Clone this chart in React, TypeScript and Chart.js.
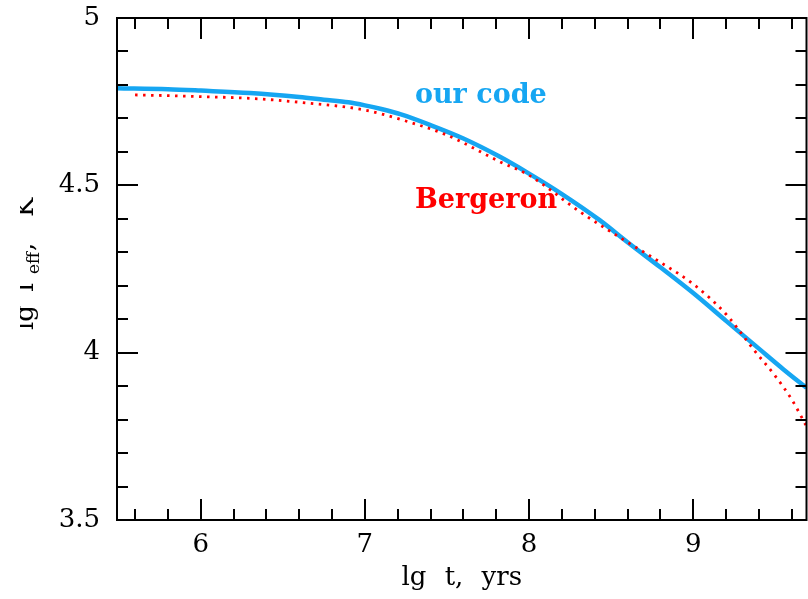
import React, { useEffect, useRef } from "react";
import { Chart, registerables } from "chart.js";

Chart.register(...registerables);

// ---- data ----
const X_MIN = 5.49;
const X_MAX = 9.69;
const Y_MIN = 3.5;
const Y_MAX = 5;
const xTicks = [6, 7, 8, 9];
const yTicks = [3.5, 4, 4.5, 5];

const ourCodeX = [5.49, 5.8, 6.0, 6.3, 6.6, 6.75, 6.9, 7.0, 7.1, 7.22, 7.4, 7.6, 7.82, 8.0, 8.2, 8.43, 8.6, 8.8, 9.0, 9.2, 9.4, 9.55, 9.69];
const ourCodeY = [4.79, 4.787, 4.783, 4.776, 4.764, 4.756, 4.748, 4.739, 4.728, 4.712, 4.68, 4.64, 4.586, 4.535, 4.474, 4.396, 4.33, 4.255, 4.178, 4.095, 4.012, 3.95, 3.895];

const bergeronX = [5.6, 5.8, 6.0, 6.3, 6.67, 7.0, 7.23, 7.5, 7.82, 8.0, 8.31, 8.6, 8.8, 9.0, 9.2, 9.37, 9.5, 9.6, 9.69];
const bergeronY = [4.77, 4.768, 4.765, 4.76, 4.745, 4.725, 4.695, 4.65, 4.571, 4.53, 4.421, 4.33, 4.27, 4.205, 4.115, 4.008, 3.93, 3.86, 3.78];

const seriesNames = ["our code", "Bergeron"];
const seriesColors = ["#16a6f2", "#ff0000"];
const nameX = [7.305, 7.305];
const nameY = [4.746, 4.432];

const xTitle = "lg t, yrs";
const yTitleParts = ["lg", "T", "eff", ",", "K"];

const SERIF = '"DejaVu Serif", serif';

const framePlugin = {
  id: "frame",
  afterDraw(chart: any) {
    const { ctx, chartArea, scales } = chart;
    const { left, right, top, bottom } = chartArea;
    const xs = scales.x;
    const ys = scales.y;
    ctx.save();
    ctx.strokeStyle = "#000";
    ctx.lineWidth = 2;
    ctx.strokeRect(left, top, right - left, bottom - top);
    ctx.beginPath();
    const MAJ = 21;
    const MIN = 11;
    for (let k = 28; k <= 48; k++) {
      const v = k * 0.2;
      if (v < X_MIN || v > X_MAX) continue;
      const px = Math.round(xs.getPixelForValue(v));
      const len = k % 5 === 0 ? MAJ : MIN;
      ctx.moveTo(px, bottom);
      ctx.lineTo(px, bottom - len);
      ctx.moveTo(px, top);
      ctx.lineTo(px, top + len);
    }
    for (let k = 35; k <= 50; k++) {
      const v = k / 10;
      const py = Math.round(ys.getPixelForValue(v));
      const len = k % 5 === 0 ? MAJ : MIN;
      ctx.moveTo(left, py);
      ctx.lineTo(left + len, py);
      ctx.moveTo(right, py);
      ctx.lineTo(right - len, py);
    }
    ctx.stroke();

    // series names
    ctx.font = `bold 27px ${SERIF}`;
    ctx.textAlign = "left";
    ctx.textBaseline = "alphabetic";
    for (let i = 0; i < seriesNames.length; i++) {
      ctx.fillStyle = seriesColors[i];
      ctx.fillText(seriesNames[i], xs.getPixelForValue(nameX[i]), ys.getPixelForValue(nameY[i]));
    }

    // x title
    ctx.fillStyle = "#000";
    ctx.font = `26px ${SERIF}`;
    ctx.textAlign = "center";
    (ctx as any).wordSpacing = "10px";
    ctx.fillText(xTitle, (left + right) / 2, 585);
    (ctx as any).wordSpacing = "0px";

    // y title (rotated, clipped at the left like the original)
    ctx.beginPath();
    ctx.rect(20, 0, 100, 599);
    ctx.clip();
    const drawRot = (t: string, yb: number, xb: number, font: string) => {
      ctx.save();
      ctx.translate(xb, yb);
      ctx.rotate(-Math.PI / 2);
      ctx.font = font;
      ctx.textAlign = "left";
      ctx.fillText(t, 0, 0);
      ctx.restore();
    };
    drawRot(yTitleParts[0], 330, 33, `26px ${SERIF}`);
    drawRot(yTitleParts[1], 296, 33, `26px ${SERIF}`);
    drawRot(yTitleParts[2], 274, 39, `17px ${SERIF}`);
    drawRot(yTitleParts[3], 251, 33, `26px ${SERIF}`);
    drawRot(yTitleParts[4], 217, 33, `26px ${SERIF}`);
    ctx.restore();
  },
};

export default function App() {
  const ref = useRef<HTMLCanvasElement>(null);
  useEffect(() => {
    const chart = new Chart(ref.current as HTMLCanvasElement, {
      type: "line",
      data: {
        datasets: [
          {
            label: seriesNames[0],
            data: ourCodeX.map((x, i) => ({ x, y: ourCodeY[i] })),
            borderColor: seriesColors[0],
            borderWidth: 4.5,
            pointRadius: 0,
            fill: false,
            cubicInterpolationMode: "monotone",
            order: 2,
          },
          {
            label: seriesNames[1],
            data: bergeronX.map((x, i) => ({ x, y: bergeronY[i] })),
            borderColor: seriesColors[1],
            borderWidth: 2.8,
            borderDash: [2.5, 5.5],
            pointRadius: 0,
            fill: false,
            cubicInterpolationMode: "monotone",
            order: 1,
          },
        ],
      },
      options: {
        responsive: false,
        animation: false,
        layout: { padding: { top: 18, right: 1.5, left: 0, bottom: 0 } },
        plugins: { legend: { display: false }, tooltip: { enabled: false } },
        scales: {
          x: {
            type: "linear",
            min: X_MIN,
            max: X_MAX,
            afterBuildTicks: (s: any) => {
              s.ticks = xTicks.map((v) => ({ value: v }));
            },
            afterFit: (s: any) => {
              s.height = 79;
              s.paddingLeft = 0;
              s.paddingRight = 0;
            },
            ticks: {
              font: { family: SERIF, size: 26 },
              color: "#000",
              padding: 10,
              maxRotation: 0,
              autoSkip: false,
              callback: (v: any) => String(v),
            },
            grid: { display: false, drawTicks: false },
            border: { display: false },
          },
          y: {
            type: "linear",
            min: Y_MIN,
            max: Y_MAX,
            afterBuildTicks: (s: any) => {
              s.ticks = yTicks.map((v) => ({ value: v }));
            },
            afterFit: (s: any) => {
              s.width = 117;
              s.paddingTop = 0;
              s.paddingBottom = 0;
            },
            ticks: {
              font: { family: SERIF, size: 26 },
              color: "#000",
              padding: 17,
              autoSkip: false,
              callback: (v: any) => String(v),
            },
            grid: { display: false, drawTicks: false },
            border: { display: false },
          },
        },
      },
      plugins: [framePlugin],
    } as any);
    return () => chart.destroy();
  }, []);
  return (
    <div style={{ position: "absolute", left: 0, top: 0, width: 808, height: 599 }}>
      <canvas ref={ref} width={808} height={599} style={{ display: "block", width: 808, height: 599 }} />
    </div>
  );
}
